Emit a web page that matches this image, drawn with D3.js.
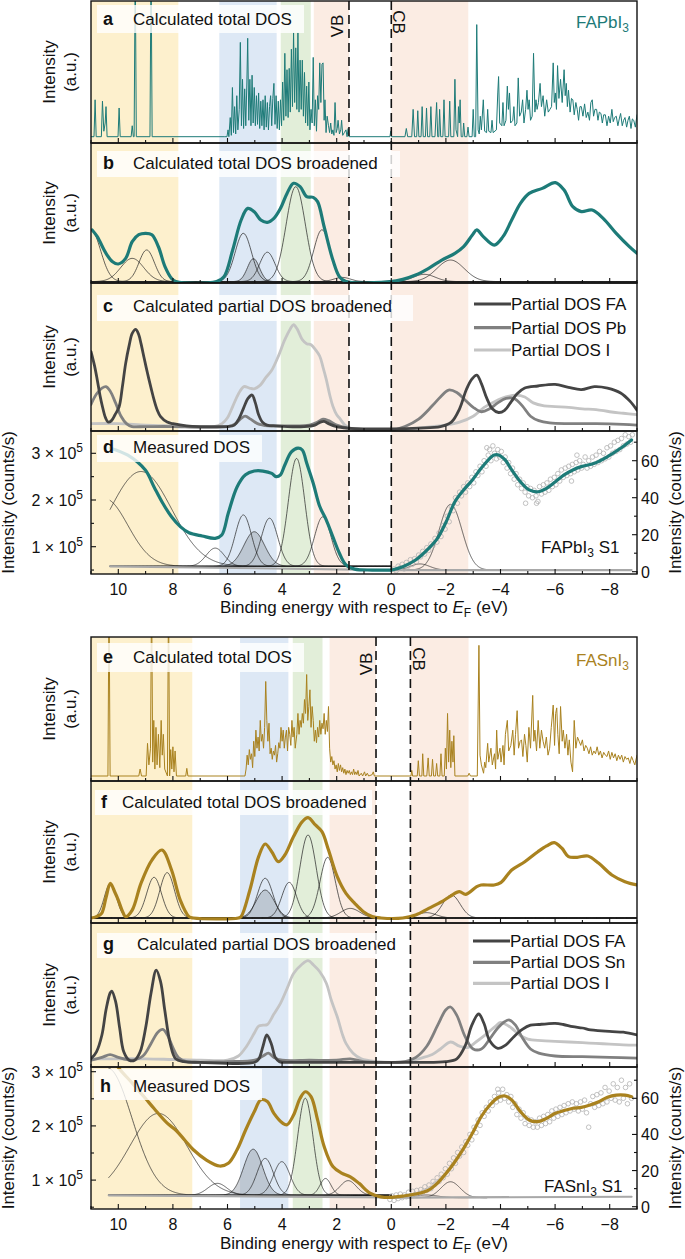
<!DOCTYPE html>
<html><head><meta charset="utf-8">
<script src="https://cdn.jsdelivr.net/npm/d3@7"></script>
<style>body{margin:0;background:#fff}text{font-family:"Liberation Sans",Arial,Helvetica,sans-serif;fill:#111}</style>
</head><body>
<script>
// ---------------- DATA ----------------
const majorTicks = [10,8,6,4,2,0,-2,-4,-6,-8];
const minorTicks = [11,9,7,5,3,1,-1,-3,-5,-7,-9];
const xTickLabels = ["10","8","6","4","2","0","\u22122","\u22124","\u22126","\u22128"];
const leftTicks = [1,2,3];
const leftMinor = [0.5,1.5,2.5];
const rightTicks = [0,20,40,60];
const rightMinor = [10,30,50,70];

// energy bands [from, to, kind]
const bandsPb = [[11,7.8,"y"],[6.3,4.2,"b"],[4.05,2.95,"g"],[2.84,1.55,"p"],[0,-2.82,"p"]];
const bandsSn = [[11,7.29,"y"],[5.54,3.77,"b"],[3.61,2.52,"g"],[2.26,0.56,"p"],[-0.7,-2.83,"p"]];
const edgesPb = [1.55, 0];   // VB, CB
const edgesSn = [0.56, -0.7];

// (a) calculated total DOS FAPbI3 [eV, a.u.]
const calcPb = [[11.0,0],[10.89,0],[10.85,27],[10.81,0],[10.62,0],[10.58,26],[10.53,4],[10.48,10],[10.45,22],[10.41,0],[10.01,0],[9.97,21],[9.93,0],[9.53,0],[9.49,8],[9.45,0],[9.42,0],[9.38,130],[9.34,0],[8.84,0],[8.80,130],[8.76,0],[6.10,0],
[6.02,0],[5.98,5],[5.95,0],[5.90,14],[5.86,1],[5.82,36],[5.78,3],[5.74,22],[5.70,2],[5.66,30],[5.62,5],[5.57,20],[5.53,69],[5.49,8],[5.45,42],[5.41,6],[5.37,35],[5.33,8],[5.29,40],[5.26,72],[5.22,12],[5.18,42],[5.14,8],[5.10,45],[5.06,10],[5.02,36],[4.98,8],[4.94,30],[4.90,9],[4.86,32],[4.82,6],[4.78,26],[4.74,8],[4.70,27],[4.66,5],[4.62,30],[4.58,7],[4.54,25],[4.50,5],[4.46,22],[4.42,30],[4.38,8],[4.34,28],[4.30,39],[4.26,9],[4.22,30],[4.18,6],[4.14,26],[4.10,5],[4.06,27],[4.02,8],[3.98,40],[3.94,12],[3.90,61],[3.86,15],[3.82,49],[3.78,14],[3.74,50],[3.70,18],[3.66,64],[3.62,22],[3.58,76],[3.54,25],[3.50,65],[3.46,20],[3.42,76],[3.38,18],[3.34,56],[3.30,20],[3.26,56],[3.22,15],[3.18,47],[3.14,10],[3.10,37],[3.06,8],[3.02,40],[2.98,5],[2.94,20],[2.90,10],[2.86,58],[2.82,8],[2.78,27],[2.74,4],[2.70,30],[2.66,20],[2.62,54],[2.58,25],[2.54,53],[2.50,54],[2.46,12],[2.43,27],[2.39,3],[2.35,15],[2.30,8],[2.26,3],[2.22,10],[2.18,2],[2.14,5],[2.10,1],[2.06,25],[2.02,3],[1.98,6],[1.95,12],[1.90,2],[1.85,5],[1.82,12],[1.78,1],[1.72,3],[1.66,5],[1.62,0],[1.58,6],[1.55,0],
[0.05,0],[0.02,4],[-0.01,0],[-0.5,0],[-0.55,6],[-0.6,0],[-0.75,0],[-0.8,20],[-0.85,0],[-0.93,0],[-0.97,19],[-1.01,0],[-1.09,0],[-1.13,22],[-1.17,0],[-1.25,0],[-1.29,21],[-1.33,0],[-1.41,0],[-1.45,22],[-1.49,0],[-1.6,0],[-1.66,25],[-1.7,0],[-1.74,0],[-1.77,20],[-1.81,0],[-1.89,0],[-1.93,27],[-1.97,0],[-2.1,0],[-2.14,26],[-2.18,0],[-2.29,0],[-2.33,42],[-2.37,5],[-2.43,0],[-2.46,22],[-2.49,10],[-2.52,27],[-2.56,0],[-2.62,0],[-2.65,10],[-2.69,0],[-2.77,0],[-2.81,7],[-2.85,0],[-2.96,0],[-3.0,20],[-3.04,0],[-3.09,0],[-3.13,82],[-3.18,5],[-3.22,2],[-3.26,15],[-3.3,5],[-3.37,27],[-3.42,4],[-3.49,3],[-3.53,20],[-3.57,4],[-3.65,3],[-3.69,12],[-3.73,3],[-3.85,5],[-3.9,32],[-3.93,44],[-3.97,10],[-4.05,8],[-4.09,25],[-4.13,8],[-4.2,12],[-4.25,37],[-4.29,20],[-4.33,32],[-4.37,10],[-4.45,12],[-4.49,22],[-4.53,8],[-4.6,10],[-4.65,43],[-4.7,15],[-4.76,18],[-4.81,27],[-4.86,10],[-4.92,20],[-4.97,34],[-5.01,20],[-5.05,27],[-5.1,12],[-5.16,15],[-5.21,61],[-5.26,18],[-5.3,27],[-5.34,20],[-5.39,25],[-5.45,39],[-5.5,22],[-5.56,30],[-5.62,15],[-5.69,27],[-5.75,18],[-5.81,20],[-5.87,22],[-5.93,54],[-5.97,25],[-6.01,32],[-6.05,20],[-6.09,52],[-6.14,28],[-6.2,42],[-6.26,25],[-6.33,49],[-6.37,30],[-6.41,39],[-6.45,22],[-6.49,34],[-6.55,18],[-6.6,28],[-6.65,27],[-6.7,16],[-6.76,25],[-6.81,20],[-6.86,12],[-6.91,22],[-6.96,22],[-7.02,15],[-7.08,24],[-7.14,14],[-7.2,18],[-7.26,12],[-7.31,25],[-7.36,27],[-7.41,15],[-7.46,20],[-7.52,20],[-7.57,12],[-7.62,18],[-7.68,17],[-7.73,10],[-7.78,16],[-7.84,16],[-7.9,8],[-7.96,15],[-8.02,10],[-8.08,20],[-8.13,11],[-8.18,14],[-8.24,15],[-8.3,8],[-8.35,13],[-8.4,17],[-8.46,8],[-8.51,12],[-8.56,14],[-8.62,7],[-8.67,12],[-8.72,15],[-8.78,6],[-8.83,13],[-8.88,12],[-8.94,7],[-9.0,16]];

// (b) broadened total DOS FAPbI3
const broadPb = [[10.96,37.9],[10.77,33.1],[10.45,21.2],[10.21,15.2],[10.0,13.6],[9.73,17.6],[9.49,29.5],[9.25,34.5],[9.0,35.5],[8.77,34.5],[8.53,25.9],[8.29,11.7],[8.05,3.3],[7.89,1],[6.4,1],[6.13,4.5],[5.81,23.6],[5.50,45],[5.26,53.3],[5.02,50.9],[4.78,45],[4.54,43.3],[4.30,46.2],[4.06,53.3],[3.82,64],[3.58,71.2],[3.34,68.8],[3.10,61.7],[2.86,61.2],[2.70,58.1],[2.46,40.2],[2.14,16.4],[1.90,4.5],[1.66,1],[0.06,1],[-0.42,2.6],[-0.89,5.7],[-1.37,10.5],[-1.85,16.4],[-2.33,21.2],[-2.65,26],[-2.97,34.3],[-3.13,37.9],[-3.37,33.1],[-3.77,27.1],[-4.09,33.1],[-4.41,45],[-4.73,56.9],[-5.05,64],[-5.53,67.6],[-6.01,71.7],[-6.33,66.4],[-6.65,54.5],[-6.96,51],[-7.36,52.1],[-7.76,46.2],[-8.24,35.5],[-8.72,26],[-9.0,21.2]];
// Gaussian components [centre eV, amplitude, sigma eV]
const gaussB = [[11.0,37,0.35],[9.49,16.6,0.42],[8.96,22.6,0.28],[5.42,34.5,0.3],[4.54,21,0.28],[3.50,67.8,0.35],[2.54,37,0.3],[1.8,3,0.3],[-1.21,5.2,0.4],[-2.17,15.4,0.5]];
const gaussBShaded = [[5.05,16.4,0.22]];

// (c) partial DOS FAPbI3
const faPb = [[11.0,53.6],[10.87,44],[10.77,34.5],[10.67,24],[10.58,16.4],[10.47,9],[10.37,6],[10.25,7],[10.12,11],[9.97,16.4],[9.85,30],[9.73,45.7],[9.6,58],[9.49,66],[9.36,68.7],[9.25,65],[9.17,59.2],[9.05,49],[8.93,39],[8.8,29],[8.69,21],[8.57,14],[8.45,9.7],[8.21,6],[8.0,5],[7.5,3.5],[7.0,3],[6.5,3],[6.0,3],[5.75,4],[5.58,8.3],[5.4,16],[5.25,22],[5.10,24.3],[4.98,19],[4.86,11],[4.72,6],[4.55,4],[4.2,3.5],[3.8,3],[3.2,3],[2.8,4],[2.6,6],[2.46,6.5],[2.3,5],[2.0,3],[1.6,2],[1.0,1.5],[0.0,1.5],[-1.0,2],[-1.8,3],[-2.2,6],[-2.5,15],[-2.75,28],[-2.95,35],[-3.13,37.8],[-3.3,32],[-3.5,22],[-3.7,15],[-3.93,12.5],[-4.15,14],[-4.4,20],[-4.6,25],[-4.89,29],[-5.37,30.4],[-6.0,31.5],[-6.49,29.5],[-6.96,28],[-7.44,30],[-7.92,29],[-8.4,25.7],[-8.75,20],[-9.0,14]];
const pbPb = [[11.0,18],[10.8,25],[10.6,29],[10.45,30],[10.3,27],[10.1,19],[9.9,10],[9.7,5],[9.5,3],[9.0,3],[8.0,3],[7.0,2.5],[6.0,3],[5.7,5],[5.5,8.5],[5.35,10],[5.15,8],[4.9,5],[4.5,3.5],[3.8,3.5],[3.0,4],[2.7,6],[2.5,8],[2.3,7],[2.0,4],[1.6,2],[1.0,1],[0.0,0.5],[-0.5,3],[-1.0,8],[-1.5,17],[-1.8,23],[-2.1,27.7],[-2.4,26],[-2.7,21],[-3.0,16],[-3.3,13],[-3.6,15],[-3.9,19],[-4.2,22],[-4.5,22],[-4.8,17],[-5.1,10],[-5.4,7],[-5.8,5.5],[-6.5,5],[-7.5,5],[-8.5,4.5],[-9.0,4]];
const iPb = [[11.0,5],[10.0,5],[9.0,4],[8.0,3.5],[7.0,3],[6.5,3],[6.2,5],[6.0,9],[5.8,17],[5.6,25],[5.4,30],[5.2,29],[5.02,28.5],[4.8,31],[4.6,36],[4.38,41],[4.15,50],[3.9,61.7],[3.7,69],[3.58,71.8],[3.45,69],[3.26,61.7],[3.1,59],[2.94,58.3],[2.78,55],[2.62,50.5],[2.5,43],[2.38,34.7],[2.25,24],[2.14,16.7],[2.0,11],[1.9,8.8],[1.7,4],[1.5,2],[1.0,1],[0.0,0.5],[-0.5,1],[-1.0,2],[-1.5,3],[-2.0,4],[-2.5,6],[-3.0,10],[-3.4,16],[-3.8,20],[-4.2,23],[-4.57,24.3],[-4.89,23],[-5.2,19],[-5.6,17],[-6.0,16.5],[-6.5,16],[-7.0,15],[-7.5,14.5],[-8.0,13],[-8.5,12],[-9.0,11]];

// (d) measured DOS FAPbI3 S1: valence part in 1e5 counts/s, conduction part in counts/s
const measPbVB = [[10.29,3.11],[9.65,2.96],[9.01,2.64],[8.69,2.28],[8.37,1.93],[8.05,1.64],[7.73,1.43],[7.41,1.30],[6.93,1.23],[6.45,1.18],[6.21,1.25],[5.97,1.72],[5.65,2.28],[5.34,2.54],[5.02,2.62],[4.70,2.62],[4.38,2.57],[4.22,2.50],[4.06,2.54],[3.90,2.75],[3.66,3.03],[3.42,3.11],[3.26,3.07],[3.10,2.79],[2.86,2.36],[2.62,1.86],[2.38,1.57],[2.14,1.21],[1.90,0.86],[1.66,0.61],[1.34,0.52],[0.70,0.50],[0.0,0.50]];
const measPbCB = [[0,0.9],[-0.42,2.7],[-0.89,6.3],[-1.37,12.6],[-1.69,18],[-2.01,27],[-2.33,37.8],[-2.65,44.2],[-2.97,49.6],[-3.29,55.9],[-3.61,61.3],[-3.77,63.1],[-3.93,63.1],[-4.17,60.4],[-4.41,55],[-4.73,48.6],[-5.05,44.2],[-5.37,43.2],[-5.69,45.1],[-6.01,48.6],[-6.33,52.3],[-6.65,55],[-6.96,56.8],[-7.44,58.6],[-7.92,62.2],[-8.40,66.7],[-8.80,71.2]];
const pointsPb = [[-0.10,1.5],[-0.18,0.5],[-0.25,3],[-0.32,2],[-0.40,4],[-0.47,1.5],[-0.55,5],[-0.62,3],[-0.70,6.5],[-0.77,4],[-0.85,7],[-0.92,5.5],[-1.00,9],[-1.07,8],[-1.15,11],[-1.22,9.5],[-1.30,13],[-1.37,11.5],[-1.45,15],[-1.52,14],[-1.60,18],[-1.67,16],[-1.75,21],[-1.82,19],[-1.90,25],[-1.97,23],[-2.05,30],[-2.12,27],[-2.20,35],[-2.27,33],[-2.35,40],[-2.42,37],[-2.50,43],[-2.57,41],[-2.65,46],[-2.72,43],[-2.80,48],[-2.87,46],[-2.95,51],[-3.02,48],[-3.10,54],[-3.17,52],[-3.25,57],[-3.32,54],[-3.40,60],[-3.47,57],[-3.50,67],[-3.55,63],[-3.60,66],[-3.65,60],[-3.72,68],[-3.78,64],[-3.85,61],[-3.90,66],[-3.97,62],[-4.03,65],[-4.10,59],[-4.17,62],[-4.24,56],[-4.30,59],[-4.37,53],[-4.44,56],[-4.50,50],[-4.57,53],[-4.63,47],[-4.70,50],[-4.77,45],[-4.83,48],[-4.90,43],[-4.92,37],[-4.97,46],[-5.03,41],[-5.10,45],[-5.17,40],[-5.23,44],[-5.30,41],[-5.32,37],[-5.37,38],[-5.43,46],[-5.50,42],[-5.57,47],[-5.63,43],[-5.70,48],[-5.77,44],[-5.83,50],[-5.90,46],[-5.97,51],[-6.03,47],[-6.10,53],[-6.17,49],[-6.23,55],[-6.30,51],[-6.37,56],[-6.43,52],[-6.50,57],[-6.57,53],[-6.60,49],[-6.63,58],[-6.70,54],[-6.77,59],[-6.80,63],[-6.83,55],[-6.90,60],[-6.97,56],[-7.03,58],[-7.10,62],[-7.17,56],[-7.23,60],[-7.30,57],[-7.37,62],[-7.43,58],[-7.50,63],[-7.57,59],[-7.63,65],[-7.70,60],[-7.77,64],[-7.83,61],[-7.90,67],[-7.97,62],[-8.03,68],[-8.10,64],[-8.17,70],[-8.23,65],[-8.30,71],[-8.37,66],[-8.43,72],[-8.50,68],[-8.57,74],[-8.63,69],[-8.70,73],[-8.77,70],[-8.83,74]];
const baseDPbVB = [[10.3,0.58],[0,0.5]];
const baseDPbCB = [[0,0.9],[-8.8,0.9]];
const gaussDVB = [[10.5,1.45,0.85],[9.17,2.03,1.12],[6.45,0.39,0.33],[5.42,1.10,0.3],[4.46,1.03,0.3],[3.47,2.31,0.3],[2.51,1.06,0.3]];
const gaussDVBShaded = [[5.02,0.74,0.38]];
const gaussDCB = [[-1.05,3.3,0.35],[-2.17,35.5,0.42]];

// (e) calculated total DOS FASnI3
const calcSn = [[11.0,0],[10.38,0],[10.34,135],[10.30,0],[9.25,0],[9.2,5],[9.15,0],[8.98,0],[8.93,23.5],[8.88,8],[8.82,20],[8.78,135],[8.74,10],[8.70,40],[8.66,5],[8.62,35],[8.58,8],[8.53,30],[8.48,6],[8.43,40],[8.39,15],[8.35,30],[8.30,5],[8.20,0],[8.16,135],[8.12,0],[8.08,19],[8.04,5],[8.00,21],[7.96,3],[7.92,18],[7.87,0],[7.53,0],[7.49,5.5],[7.45,0],[5.40,0],
[5.36,0],[5.32,5],[5.28,15],[5.24,8],[5.2,19],[5.16,12],[5.12,16],[5.08,6],[5.04,25],[5.0,14],[4.96,33],[4.92,20],[4.88,28],[4.84,18],[4.80,40],[4.76,25],[4.72,30],[4.68,20],[4.64,35],[4.60,68],[4.56,40],[4.52,25],[4.48,38],[4.44,16],[4.40,20],[4.36,12],[4.32,18],[4.28,15],[4.24,22],[4.20,10],[4.16,16],[4.12,24],[4.08,20],[4.04,35],[4.00,25],[3.96,33],[3.92,20],[3.88,28],[3.84,33],[3.80,18],[3.76,35],[3.72,30],[3.68,22],[3.64,40],[3.60,28],[3.56,35],[3.52,20],[3.46,30],[3.42,45],[3.38,30],[3.34,40],[3.30,35],[3.26,45],[3.22,38],[3.18,55],[3.14,45],[3.10,73],[3.06,40],[3.02,50],[2.98,62],[2.94,35],[2.90,50],[2.86,40],[2.82,25],[2.78,33],[2.74,24],[2.70,35],[2.66,28],[2.62,40],[2.58,30],[2.54,38],[2.50,34],[2.46,45],[2.42,30],[2.38,40],[2.34,32],[2.30,50],[2.26,20],[2.22,10],[2.18,14],[2.14,8],[2.10,11],[2.06,5],[2.02,8],[1.98,3],[1.94,9],[1.90,4],[1.86,8],[1.82,3],[1.78,6],[1.74,2],[1.70,5],[1.66,1],[1.62,4],[1.58,2],[1.54,4],[1.50,1],[1.46,3],[1.42,1],[1.38,5],[1.34,1],[1.30,3],[1.26,1],[1.22,4],[1.18,0],[1.10,2],[1.05,0],[0.98,3],[0.94,0],[0.88,2],[0.83,0],[0.7,1],[0.66,3],[0.62,0],
[-0.72,0],[-0.75,4],[-0.78,0],[-0.95,0],[-0.99,11],[-1.03,0],[-1.12,0],[-1.15,16],[-1.19,0],[-1.3,0],[-1.35,13],[-1.39,0],[-1.47,0],[-1.51,12],[-1.55,0],[-1.62,0],[-1.66,9],[-1.7,0],[-1.78,0],[-1.82,16],[-1.86,0],[-1.94,0],[-1.98,20],[-2.02,5],[-2.06,45],[-2.1,10],[-2.14,33],[-2.18,6],[-2.22,25],[-2.26,10],[-2.29,29],[-2.33,0],[-2.8,0],[-2.85,2],[-2.9,0],[-3.15,0],[-3.21,94],[-3.25,15],[-3.3,8],[-3.38,2],[-3.42,10],[-3.46,6],[-3.53,23.5],[-3.57,10],[-3.65,20],[-3.7,8],[-3.78,16],[-3.82,5],[-3.86,33],[-3.9,12],[-3.98,20],[-4.02,10],[-4.09,22],[-4.13,8],[-4.18,30],[-4.25,40],[-4.3,18],[-4.38,22],[-4.45,33],[-4.5,15],[-4.55,30],[-4.61,47],[-4.66,20],[-4.72,25],[-4.77,26],[-4.82,14],[-4.88,30],[-4.93,22],[-4.98,10],[-5.04,35],[-5.1,20],[-5.18,58],[-5.22,25],[-5.26,33],[-5.32,18],[-5.38,40],[-5.44,20],[-5.5,33],[-5.56,25],[-5.62,20],[-5.68,28],[-5.74,15],[-5.8,20],[-5.86,35],[-5.93,51],[-5.98,22],[-6.02,45],[-6.06,49],[-6.1,30],[-6.15,16],[-6.2,50],[-6.26,25],[-6.3,33],[-6.36,20],[-6.42,30],[-6.47,15],[-6.52,26],[-6.58,10],[-6.64,3],[-6.7,40],[-6.76,20],[-6.82,28],[-6.88,25],[-6.94,22],[-7.0,26],[-7.06,18],[-7.12,22],[-7.18,20],[-7.24,16],[-7.3,21],[-7.36,15],[-7.42,18],[-7.48,16],[-7.54,21],[-7.6,15],[-7.66,18],[-7.72,13],[-7.78,17],[-7.84,15],[-7.9,14],[-7.96,18],[-8.02,12],[-8.08,17],[-8.14,13],[-8.2,16],[-8.26,11],[-8.32,15],[-8.38,12],[-8.44,15],[-8.5,10],[-8.56,14],[-8.62,12],[-8.68,13],[-8.74,9],[-8.8,14],[-8.86,11],[-8.92,8],[-9.0,15]];

// (f) broadened total DOS FASnI3
const broadSn = [[11.0,0],[10.8,1],[10.61,3.4],[10.45,15],[10.29,25.3],[10.13,19],[10.0,13.1],[9.85,5],[9.73,1],[9.49,5.8],[9.17,25.3],[8.77,42.3],[8.40,49.6],[8.05,35],[7.73,13.1],[7.41,1],[7.25,0],[5.6,0],[5.50,1],[5.18,20.4],[4.86,44.8],[4.62,54],[4.38,48.4],[4.14,41.1],[3.90,46],[3.58,59.4],[3.26,70.3],[3.05,73.2],[2.78,67.9],[2.54,63],[2.30,49.6],[1.98,30.2],[1.66,18],[1.34,10.7],[1.02,4.6],[0.70,1],[0.38,0],[-0.42,0],[-0.89,2.2],[-1.37,7],[-1.85,11.9],[-2.17,16],[-2.49,19.2],[-2.73,17.3],[-3.13,22.9],[-3.29,24.1],[-3.77,24.1],[-4.01,25.8],[-4.41,35],[-4.89,41.1],[-5.37,48.4],[-5.69,52.6],[-5.97,55],[-6.25,50.9],[-6.49,44.8],[-6.81,44.3],[-7.2,45.3],[-7.6,39.9],[-8.08,31.4],[-8.56,26.5],[-9.0,24.1]];
const gaussF = [[10.29,25.3,0.22],[8.69,29.7,0.27],[8.21,33.1,0.27],[4.62,29,0.28],[3.74,26,0.27],[3.05,60.6,0.3],[2.33,44.3,0.28],[1.5,7,0.35],[-1.29,3.9,0.35],[-2.2,16.8,0.32]];
const gaussFShaded = [[4.62,20.4,0.33]];

// (g) partial DOS FASnI3
const faSn = [[11.0,3],[10.8,8],[10.6,20],[10.45,38],[10.3,50],[10.24,51.4],[10.1,44],[9.95,25],[9.8,8],[9.6,2],[9.4,2],[9.2,8],[9.0,25],[8.8,50],[8.61,66.4],[8.45,58],[8.3,38],[8.1,14],[7.9,3],[7.6,1],[7.0,0.5],[5.0,0.5],[4.85,3],[4.7,12],[4.56,20],[4.4,14],[4.25,4],[4.1,1],[3.5,0.5],[2.0,0.5],[0.0,0.5],[-1.0,0.5],[-2.0,1],[-2.4,3],[-2.7,12],[-2.95,27],[-3.2,35],[-3.4,28],[-3.6,16],[-3.9,10.5],[-4.2,13],[-4.5,19],[-4.8,24],[-5.1,27],[-5.4,27.5],[-5.7,28],[-6.0,28.3],[-6.3,27.5],[-6.65,26],[-7.0,25],[-7.3,23.6],[-7.7,23],[-8.1,22.4],[-8.5,22],[-9.0,20]];
const snSn = [[11.0,2],[10.6,4],[10.3,6],[10.0,4],[9.5,2],[9.1,5],[8.8,14],[8.55,22],[8.37,24],[8.2,20],[8.0,11],[7.8,4],[7.5,1],[6.0,1],[5.0,2],[4.7,5],[4.5,7],[4.3,4],[4.0,2],[3.0,2],[2.0,2],[1.5,3],[1.0,1],[0.0,0.5],[-0.5,1],[-0.9,4],[-1.3,12],[-1.7,27],[-2.0,38],[-2.17,40],[-2.4,34],[-2.7,19],[-3.0,10],[-3.3,10],[-3.6,17],[-3.9,25],[-4.15,29.5],[-4.33,30.7],[-4.55,27],[-4.8,18],[-5.1,10],[-5.4,7],[-6.0,5],[-7.0,4.5],[-8.0,4],[-9.0,3.5]];
const iSn = [[11.0,3],[10.0,3],[9.0,3],[8.0,2.5],[7.0,2],[6.0,2],[5.6,5],[5.3,12],[5.0,22],[4.86,26.4],[4.7,27],[4.54,27.5],[4.3,35],[4.06,42.6],[3.8,54],[3.58,64],[3.3,70],[3.05,73.1],[2.85,70],[2.62,65.2],[2.38,57],[2.2,45],[1.98,33],[1.8,21],[1.66,14],[1.4,7],[1.1,3],[0.5,1],[0.0,0.5],[-0.5,1],[-1.0,3],[-1.5,6],[-1.8,10],[-2.17,15],[-2.5,12],[-2.8,11],[-3.1,15],[-3.5,21],[-3.8,26],[-4.0,29],[-4.15,28],[-4.4,25],[-4.7,20],[-5.0,17],[-5.5,16],[-6.0,15.5],[-6.5,15],[-7.0,14.5],[-7.5,14],[-8.0,13.5],[-8.5,13],[-9.0,12.8]];

// (h) measured DOS FASnI3 S1
const measSnVB = [[10.3,3.3],[9.97,3.06],[9.49,2.79],[9.01,2.51],[8.69,2.32],[8.21,2.05],[7.89,1.92],[7.57,1.74],[7.25,1.56],[6.77,1.37],[6.29,1.26],[5.97,1.31],[5.65,1.56],[5.34,1.92],[5.02,2.26],[4.78,2.48],[4.54,2.45],[4.30,2.23],[3.98,2.05],[3.82,2.02],[3.58,2.20],[3.34,2.51],[3.15,2.63],[2.94,2.54],[2.70,2.11],[2.46,1.62],[2.14,1.25],[1.82,1.13],[1.50,1.06],[1.18,0.94],[0.78,0.76],[0.38,0.69],[0.0,0.68]];
const measSnCB = [[0,5.2],[-0.42,5.9],[-0.89,7.0],[-1.37,9.2],[-1.69,13],[-2.01,18.5],[-2.33,24.9],[-2.65,32.3],[-2.97,40.6],[-3.29,49.8],[-3.61,56.3],[-3.93,60.6],[-4.17,61.3],[-4.41,59.1],[-4.73,52.6],[-5.05,48.0],[-5.37,47.1],[-5.69,48.9],[-6.01,51.7],[-6.33,53.2],[-6.65,54.5],[-6.96,55.0],[-7.28,56.3],[-7.6,58.1],[-7.92,60.6],[-8.24,61.8],[-8.56,61.8],[-8.80,60.9]];
const pointsSn = [[0.05,4],[-0.02,6],[-0.1,3.5],[-0.18,6.5],[-0.25,4.5],[-0.33,7],[-0.4,5],[-0.48,6.5],[-0.55,5.5],[-0.63,8],[-0.7,6],[-0.78,8.5],[-0.85,6.5],[-0.93,9],[-1.0,7],[-1.08,9.5],[-1.15,8],[-1.23,11],[-1.3,9],[-1.38,12],[-1.45,10],[-1.53,14],[-1.6,12.5],[-1.68,16],[-1.75,14],[-1.83,18],[-1.9,16],[-1.98,21],[-2.05,18],[-2.13,24],[-2.2,21],[-2.28,27],[-2.35,24],[-2.43,30],[-2.5,28],[-2.58,33],[-2.65,30],[-2.73,36],[-2.8,34],[-2.88,40],[-2.95,37],[-3.03,44],[-3.1,41],[-3.18,48],[-3.25,45],[-3.33,52],[-3.4,50],[-3.48,55],[-3.55,53],[-3.63,58],[-3.7,56],[-3.78,61],[-3.85,58],[-3.9,65],[-3.93,63],[-4.0,59],[-4.08,65],[-4.15,60],[-4.23,62],[-4.3,58],[-4.38,61],[-4.45,55],[-4.53,57],[-4.6,51],[-4.68,54],[-4.75,49],[-4.83,52],[-4.9,46],[-4.98,49],[-5.05,45],[-5.13,48],[-5.2,44],[-5.28,47],[-5.35,44],[-5.43,49],[-5.5,45],[-5.58,50],[-5.65,46],[-5.73,51],[-5.8,47],[-5.88,53],[-5.95,49],[-6.03,54],[-6.1,50],[-6.18,55],[-6.25,51],[-6.33,56],[-6.4,52],[-6.48,57],[-6.55,53],[-6.63,58],[-6.7,54],[-6.78,57],[-6.85,53],[-6.93,58],[-7.0,54],[-7.08,59],[-7.15,52],[-7.23,44],[-7.3,57],[-7.38,61],[-7.45,55],[-7.53,62],[-7.6,56],[-7.68,63],[-7.75,57],[-7.83,66],[-7.9,58],[-7.98,64],[-8.05,60],[-8.13,68],[-8.2,59],[-8.28,66],[-8.35,58],[-8.43,70],[-8.5,60],[-8.58,66],[-8.65,57],[-8.73,68],[-8.8,60]];
const baseHSnVB = [[10.35,0.72],[0,0.68]];
const baseHSnCB = [[0,5],[-8.8,5.5]];
const gaussHVB = [[10.4,2.35,0.9],[8.53,1.51,1.04],[6.37,0.22,0.35],[4.62,0.68,0.3],[4.01,0.62,0.3],[3.15,1.79,0.28],[2.41,0.31,0.2],[1.58,0.27,0.3]];
const gaussHVBShaded = [[5.06,0.85,0.35]];
const gaussHCB = [[-1.29,1.5,0.4],[-2.17,8.8,0.35]];

// ---------------- LAYOUT / STYLE ----------------
const TEAL = "#1d7b78", GOLD = "#a9821f";
const BAND = {y:"#fdf0cd", b:"#dde8f5", g:"#e2eed9", p:"#fbece3"};
const FA_C = "#444", M_C = "#808080", I_C = "#c4c4c4";
const FS = 17;
const P = {
  a:{y0:1,y1:143}, b:{y0:143,y1:283}, c:{y0:283,y1:431}, d:{y0:431,y1:574},
  e:{y0:637,y1:781}, f:{y0:781,y1:923}, g:{y0:923,y1:1067}, h:{y0:1067,y1:1209}
};
const x = d3.scaleLinear().domain([11,-9]).range([91,637]);
const ya = d3.scaleLinear().domain([0,100]).range([136.7,0]);
const yb = d3.scaleLinear().domain([0,100]).range([283,143]);
const yc = d3.scaleLinear().domain([0,100]).range([431,283]);
const ydL = d3.scaleLinear().domain([0,3]).range([593.4,453.3]);
const ydR = d3.scaleLinear().domain([0,60]).range([571.7,460.7]);
const ye = d3.scaleLinear().domain([0,100]).range([776,637]);
const yf = d3.scaleLinear().domain([0,100]).range([918,781]);
const yg = d3.scaleLinear().domain([0,100]).range([1063,923]);
const yhL = d3.scaleLinear().domain([0,3]).range([1234.3,1071.7]);
const yhR = d3.scaleLinear().domain([0,60]).range([1206.7,1098.3]);

const svg = d3.select("body").append("svg").attr("width",685).attr("height",1259);
const defs = svg.append("defs");
const smooth = d3.curveCatmullRom.alpha(0.5);

function bands(list, top, bottom){
  svg.append("g").selectAll("rect").data(list).join("rect")
    .attr("x",d=>x(d[0])).attr("width",d=>x(d[1])-x(d[0]))
    .attr("y",top).attr("height",bottom-top).attr("fill",d=>BAND[d[2]]);
}
function clipG(id){
  const p = P[id];
  defs.append("clipPath").attr("id","cp"+id).append("rect")
    .attr("x",x(11)).attr("y",p.y0).attr("width",x(-9)-x(11)).attr("height",p.y1-p.y0);
  return svg.append("g").attr("clip-path","url(#cp"+id+")");
}
function drawLine(g, data, ys, color, w, curve){
  g.append("path").datum(data).attr("fill","none").attr("stroke",color)
    .attr("stroke-width",w).attr("stroke-linejoin","round").attr("stroke-linecap","round")
    .attr("d", d3.line().x(d=>x(d[0])).y(d=>ys(d[1])).curve(curve||d3.curveLinear));
}
function gaussCurve(c, base, from, to){
  const n = 600;
  return d3.range(n+1).map(k=>{ const e = from+(to-from)*k/n;
    return [e, base + c[1]*Math.exp(-((e-c[0])*(e-c[0]))/(2*c[2]*c[2]))]; });
}
function drawGauss(g, comps, shaded, ys, base, from, to){
  shaded.forEach(c=>{
    const pts = gaussCurve(c, base, from, to);
    g.append("path").datum(pts).attr("fill","#9ea6b0").attr("fill-opacity",0.5)
      .attr("d", d3.area().x(d=>x(d[0])).y0(ys(base)).y1(d=>ys(d[1])));
    drawLine(g, pts, ys, "#222", 0.7);
  });
  comps.forEach(c=> drawLine(g, gaussCurve(c, base, from, to), ys, "#222", 0.7));
}
function scatter(g, pts, ys){
  g.selectAll(null).data(pts).join("circle").attr("cx",d=>x(d[0])).attr("cy",d=>ys(d[1]))
    .attr("r",2.3).attr("fill","none").attr("stroke","#b3b3b3").attr("stroke-width",0.8);
}
function edges(list, top, bottom){
  list.forEach(e=> svg.append("line").attr("x1",x(e)).attr("x2",x(e)).attr("y1",top).attr("y2",bottom)
    .attr("stroke","#111").attr("stroke-width",1.6).attr("stroke-dasharray","9,5"));
}
function labelBox(x0,y0,x1,y1,letter,text,base,tx){
  svg.append("rect").attr("x",x0).attr("y",y0).attr("width",x1-x0).attr("height",y1-y0)
    .attr("fill","#fff").attr("fill-opacity",0.8);
  svg.append("text").attr("x",x0+6).attr("y",base).attr("font-weight","bold").attr("font-size",18).text(letter);
  svg.append("text").attr("x",tx).attr("y",base).attr("font-size",FS).text(text);
}
function frame(id, labels){
  const p = P[id];
  const g = svg.append("g");
  g.selectAll(null).data(majorTicks).join("line").attr("x1",d=>x(d)).attr("x2",d=>x(d))
    .attr("y1",p.y1).attr("y2",p.y1-5).attr("stroke","#111").attr("stroke-width",1.1);
  g.selectAll(null).data(minorTicks).join("line").attr("x1",d=>x(d)).attr("x2",d=>x(d))
    .attr("y1",p.y1).attr("y2",p.y1-3).attr("stroke","#111").attr("stroke-width",1.1);
  g.append("rect").attr("x",x(11)).attr("y",p.y0).attr("width",x(-9)-x(11)).attr("height",p.y1-p.y0)
    .attr("fill","none").attr("stroke","#111").attr("stroke-width",1.4);
  if(labels){
    g.selectAll(null).data(majorTicks).join("text").attr("x",d=>x(d)).attr("y",p.y1+21)
      .attr("text-anchor","middle").attr("font-size",16).text((d,i)=>xTickLabels[i]);
  }
}
function auLabel(id){
  const p = P[id], cy = (p.y0+p.y1)/2;
  svg.append("text").attr("transform",`translate(55,${cy}) rotate(-90)`).attr("text-anchor","middle").attr("font-size",FS).text("Intensity");
  svg.append("text").attr("transform",`translate(76,${cy}) rotate(-90)`).attr("text-anchor","middle").attr("font-size",FS).text("(a.u.)");
}
function countAxes(id, yL, yR){
  const p = P[id], g = svg.append("g"), L = x(11), R = x(-9);
  g.selectAll(null).data(leftTicks).join("line").attr("x1",L).attr("x2",L+5).attr("y1",d=>yL(d)).attr("y2",d=>yL(d)).attr("stroke","#111").attr("stroke-width",1.1);
  g.selectAll(null).data(leftMinor).join("line").attr("x1",L).attr("x2",L+3).attr("y1",d=>yL(d)).attr("y2",d=>yL(d)).attr("stroke","#111").attr("stroke-width",1.1);
  const lt = g.selectAll(null).data(leftTicks).join("text").attr("x",L-8).attr("y",d=>yL(d)+6)
    .attr("text-anchor","end").attr("font-size",16);
  lt.append("tspan").text(d=>d+" \u00d7 10");
  lt.append("tspan").attr("dy",-7).attr("font-size",12).text("5");
  g.selectAll(null).data(rightTicks).join("line").attr("x1",R).attr("x2",R-5).attr("y1",d=>yR(d)).attr("y2",d=>yR(d)).attr("stroke","#111").attr("stroke-width",1.1);
  g.selectAll(null).data(rightMinor).join("line").attr("x1",R).attr("x2",R-3).attr("y1",d=>yR(d)).attr("y2",d=>yR(d)).attr("stroke","#111").attr("stroke-width",1.1);
  g.selectAll(null).data(rightTicks).join("text").attr("x",R+4).attr("y",d=>yR(d)+6).attr("font-size",16).text(d=>d);
  const cy = (p.y0+p.y1)/2;
  svg.append("text").attr("transform",`translate(14,${cy}) rotate(-90)`).attr("text-anchor","middle").attr("font-size",FS).text("Intensity (counts/s)");
  svg.append("text").attr("transform",`translate(681,${cy}) rotate(-90)`).attr("text-anchor","middle").attr("font-size",FS).text("Intensity (counts/s)");
}
function xTitle(baseY){
  const t = svg.append("text").attr("x",364).attr("y",baseY).attr("text-anchor","middle").attr("font-size",FS);
  t.append("tspan").text("Binding energy with respect to ");
  t.append("tspan").attr("font-style","italic").text("E");
  t.append("tspan").attr("dy",4).attr("font-size",12).text("F");
  t.append("tspan").attr("dy",-4).text(" (eV)");
}
function subText(xp, y, main, sub, rest, color, anchor){
  const t = svg.append("text").attr("x",xp).attr("y",y).attr("font-size",FS).attr("text-anchor",anchor||"start");
  if(color) t.style("fill",color);
  t.append("tspan").text(main);
  t.append("tspan").attr("dy",4).attr("font-size",12).text(sub);
  t.append("tspan").attr("dy",-4).text(rest||"");
}
function rotText(cx, cy, angle, s){
  svg.append("text").attr("transform",`translate(${cx},${cy}) rotate(${angle})`).attr("text-anchor","middle")
    .attr("dy","0.35em").attr("font-size",FS).text(s);
}
function legend(x0, ys, names){
  names.forEach((n,i)=>{
    svg.append("line").attr("x1",x0).attr("x2",x0+37).attr("y1",ys[i]).attr("y2",ys[i])
      .attr("stroke",[FA_C,M_C,I_C][i]).attr("stroke-width",3.2);
    svg.append("text").attr("x",x0+37).attr("y",ys[i]+6).attr("font-size",FS).text(n);
  });
}

// ---------------- TOP HALF: FAPbI3 ----------------
bands(bandsPb, P.a.y0, P.d.y1);
let g;
g = clipG("a"); drawLine(g, calcPb, ya, TEAL, 1);
g = clipG("b"); drawGauss(g, gaussB, gaussBShaded, yb, 1, 11, -9); drawLine(g, broadPb, yb, TEAL, 3.2, smooth);
g = clipG("c"); drawLine(g, iPb, yc, I_C, 2.8, smooth); drawLine(g, pbPb, yc, M_C, 2.8, smooth); drawLine(g, faPb, yc, FA_C, 2.8, smooth);
g = clipG("d");
drawGauss(g, gaussDVB, gaussDVBShaded, ydL, 0.58, 10.3, 0);
drawGauss(g, gaussDCB, [], ydR, 0.9, 0, -4);
drawLine(g, baseDPbVB, ydL, "#a8a8a8", 2.2); drawLine(g, baseDPbCB, ydR, "#a8a8a8", 2.2);
scatter(g, pointsPb, ydR);
drawLine(g, measPbVB, ydL, TEAL, 3.2, smooth); drawLine(g, measPbCB, ydR, TEAL, 3.2, smooth);
edges(edgesPb, P.a.y0, P.d.y1);
labelBox(97,5,304,33,"a","Calculated total DOS",25,133);
labelBox(97,151,400,177,"b","Calculated total DOS broadened",169,133);
labelBox(97,295,413,321,"c","Calculated partial DOS broadened",312,133);
labelBox(97,435,262,462,"d","Measured DOS",453,133);
["a","b","c"].forEach(id=>frame(id,false)); frame("d",true);
["a","b","c"].forEach(auLabel);
countAxes("d", ydL, ydR);
subText(629, 28, "FAPbI", "3", "", TEAL, "end");
subText(541, 553, "FAPbI", "3", " S1");
rotText(337, 26, -90, "VB"); rotText(399, 22, 90, "CB");
legend(474, [304,327.7,350], ["Partial DOS FA","Partial DOS Pb","Partial DOS I"]);
xTitle(613);

// ---------------- BOTTOM HALF: FASnI3 ----------------
bands(bandsSn, P.e.y0, P.h.y1);
g = clipG("e"); drawLine(g, calcSn, ye, GOLD, 1);
g = clipG("f"); drawGauss(g, gaussF, gaussFShaded, yf, 0, 11, -9); drawLine(g, broadSn, yf, GOLD, 3.2, smooth);
g = clipG("g"); drawLine(g, iSn, yg, I_C, 2.8, smooth); drawLine(g, snSn, yg, M_C, 2.8, smooth); drawLine(g, faSn, yg, FA_C, 2.8, smooth);
g = clipG("h");
drawGauss(g, gaussHVB, gaussHVBShaded, yhL, 0.72, 10.35, 0);
drawGauss(g, gaussHCB, [], yhR, 5, 0, -3.5);
drawLine(g, baseHSnVB, yhL, "#a8a8a8", 2.2); drawLine(g, baseHSnCB, yhR, "#a8a8a8", 2.2);
scatter(g, pointsSn, yhR);
drawLine(g, measSnVB, yhL, GOLD, 3.2, smooth); drawLine(g, measSnCB, yhR, GOLD, 3.2, smooth);
edges(edgesSn, P.e.y0, P.h.y1);
labelBox(97,643,304,672,"e","Calculated total DOS",663,133);
labelBox(95,790,372,815,"f","Calculated total DOS broadened",808,122);
labelBox(97,933,406,958,"g","Calculated partial DOS broadened",950,137);
labelBox(94,1069,262,1100,"h","Measured DOS",1092,133);
["e","f","g"].forEach(id=>frame(id,false)); frame("h",true);
["e","f","g"].forEach(auLabel);
countAxes("h", yhL, yhR);
subText(629, 666, "FASnI", "3", "", GOLD, "end");
subText(544, 1192, "FASnI", "3", " S1");
rotText(366, 664, -90, "VB"); rotText(419, 659, 90, "CB");
legend(473, [941,962.3,983.3], ["Partial DOS FA","Partial DOS Sn","Partial DOS I"]);
xTitle(1249);
</script>
</body></html>
